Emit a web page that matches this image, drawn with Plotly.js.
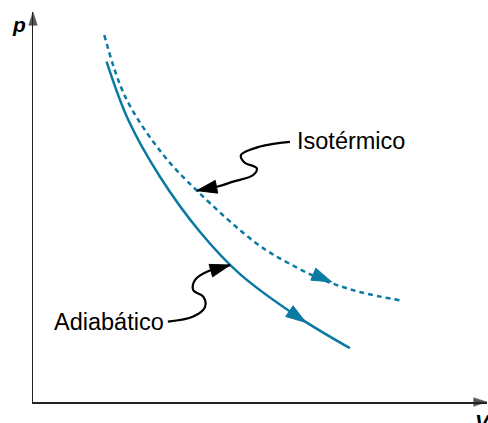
<!DOCTYPE html>
<html>
<head>
<meta charset="utf-8">
<script src="https://cdn.plot.ly/plotly-3.0.1.min.js"></script>
<style>html,body{margin:0;padding:0;background:#fff;}#chart{width:488px;height:423px;}</style>
</head>
<body>
<div id="chart"></div>
<script>
// Isothermal curve (dashed) (arbitrary V, p units)
const isoV = [1.57, 2.03, 2.84, 3.61, 4.93, 5.66, 6.39, 7.20, 8.12];
const isoP = [9.41, 7.83, 6.38, 5.42, 4.06, 3.54, 3.13, 2.82, 2.60];
// Adiabatic curve (solid)
const adiV = [1.62, 2.10, 2.80, 3.68, 4.56, 5.88, 6.98];
const adiP = [8.73, 7.23, 5.77, 4.36, 3.28, 2.15, 1.38];
// Direction arrows along the curves: [point before, arrow tip]
const isoArrowV = [6.17, 6.58];
const isoArrowP = [3.28, 3.08];
const adiArrowV = [5.66, 6.01];
const adiArrowP = [2.32, 2.04];
// Callout leader paths (end at the arrow tip)
const isoCalloutV = [5.66, 5.00, 4.58, 4.65, 4.93, 4.85, 4.41, 4.05, 3.61];
const isoCalloutP = [6.67, 6.55, 6.33, 6.15, 5.99, 5.82, 5.65, 5.52, 5.42];
const adiCalloutV = [2.97, 3.53, 3.79, 3.75, 3.53, 3.57, 3.83, 4.34];
const adiCalloutP = [2.06, 2.19, 2.44, 2.70, 2.87, 3.13, 3.34, 3.51];
// Labels
const labels = {iso: 'Isotérmico', adi: 'Adiabático', x: 'V', y: 'p'};
const axisMax = 10;

const teal = '#0b7aa2';
function sizes(n, s){ return Array.from({length:n}, (_, i) => i === n-1 ? s : 0); }
function arrowMarker(n, s, c){ return {symbol: 'arrow', angleref: 'previous', size: sizes(n, s), color: c, opacity: 1, line: {width: 1, color: c}}; }

const traces = [
  {x: isoV, y: isoP, mode: 'lines', line: {color: teal, width: 2.5, dash: '5px,4px', shape: 'spline', smoothing: 1}, hoverinfo: 'skip'},
  {x: adiV, y: adiP, mode: 'lines', line: {color: teal, width: 2.5, shape: 'spline', smoothing: 1}, hoverinfo: 'skip'},
  {x: isoArrowV, y: isoArrowP, mode: 'markers', marker: arrowMarker(2, 21, teal), hoverinfo: 'skip'},
  {x: adiArrowV, y: adiArrowP, mode: 'markers', marker: arrowMarker(2, 21, teal), hoverinfo: 'skip'},
  {x: isoCalloutV, y: isoCalloutP, mode: 'lines+markers', line: {color: '#000', width: 2.2, shape: 'spline'},
   marker: arrowMarker(isoCalloutV.length, 21, '#000'), hoverinfo: 'skip'},
  {x: adiCalloutV, y: adiCalloutP, mode: 'lines+markers', line: {color: '#000', width: 2.2, shape: 'spline'},
   marker: arrowMarker(adiCalloutV.length, 21, '#000'), hoverinfo: 'skip'},
  // axis arrowheads
  {x: [axisMax - 0.5, axisMax], y: [0, 0], mode: 'markers', cliponaxis: false, marker: {symbol: 'arrow', angleref: 'previous', size: [0, 14], color: '#111', line: {width: 0.5, color: '#111'}}, hoverinfo: 'skip'},
  {x: [0, 0], y: [axisMax - 0.5, axisMax], mode: 'markers', cliponaxis: false, marker: {symbol: 'arrow', angleref: 'previous', size: [0, 14], color: '#111', line: {width: 0.5, color: '#111'}}, hoverinfo: 'skip'}
];

const layout = {
  width: 488, height: 423,
  margin: {l: 33, r: 1, t: 12, b: 21},
  paper_bgcolor: '#fff', plot_bgcolor: '#fff',
  showlegend: false,
  font: {family: 'Liberation Sans, Arial, sans-serif', color: '#000'},
  xaxis: {range: [0, axisMax], showline: true, linecolor: '#222', linewidth: 1.5, showgrid: false, zeroline: false, showticklabels: false, ticks: '', fixedrange: true},
  yaxis: {range: [0, axisMax], showline: true, linecolor: '#222', linewidth: 1.5, showgrid: false, zeroline: false, showticklabels: false, ticks: '', fixedrange: true},
  annotations: [
    {x: 5.76, y: 6.69, xref: 'x', yref: 'y', text: labels.iso, showarrow: false, xanchor: 'left', yanchor: 'middle', font: {size: 23.5, color: '#000'}},
    {x: 2.92, y: 2.06, xref: 'x', yref: 'y', text: labels.adi, showarrow: false, xanchor: 'right', yanchor: 'middle', font: {size: 23.5, color: '#000'}},
    {x: -0.031, y: 0.967, xref: 'paper', yref: 'paper', text: '<b><i>' + labels.y + '</i></b>', showarrow: false, xanchor: 'center', yanchor: 'middle', font: {size: 21, color: '#000'}},
    {x: 0.991, y: -0.05, xref: 'paper', yref: 'paper', text: '<b><i>' + labels.x + '</i></b>', showarrow: false, xanchor: 'center', yanchor: 'middle', font: {size: 21, color: '#000'}}
  ]
};

Plotly.newPlot('chart', traces, layout, {staticPlot: true, displayModeBar: false});
</script>
</body>
</html>
